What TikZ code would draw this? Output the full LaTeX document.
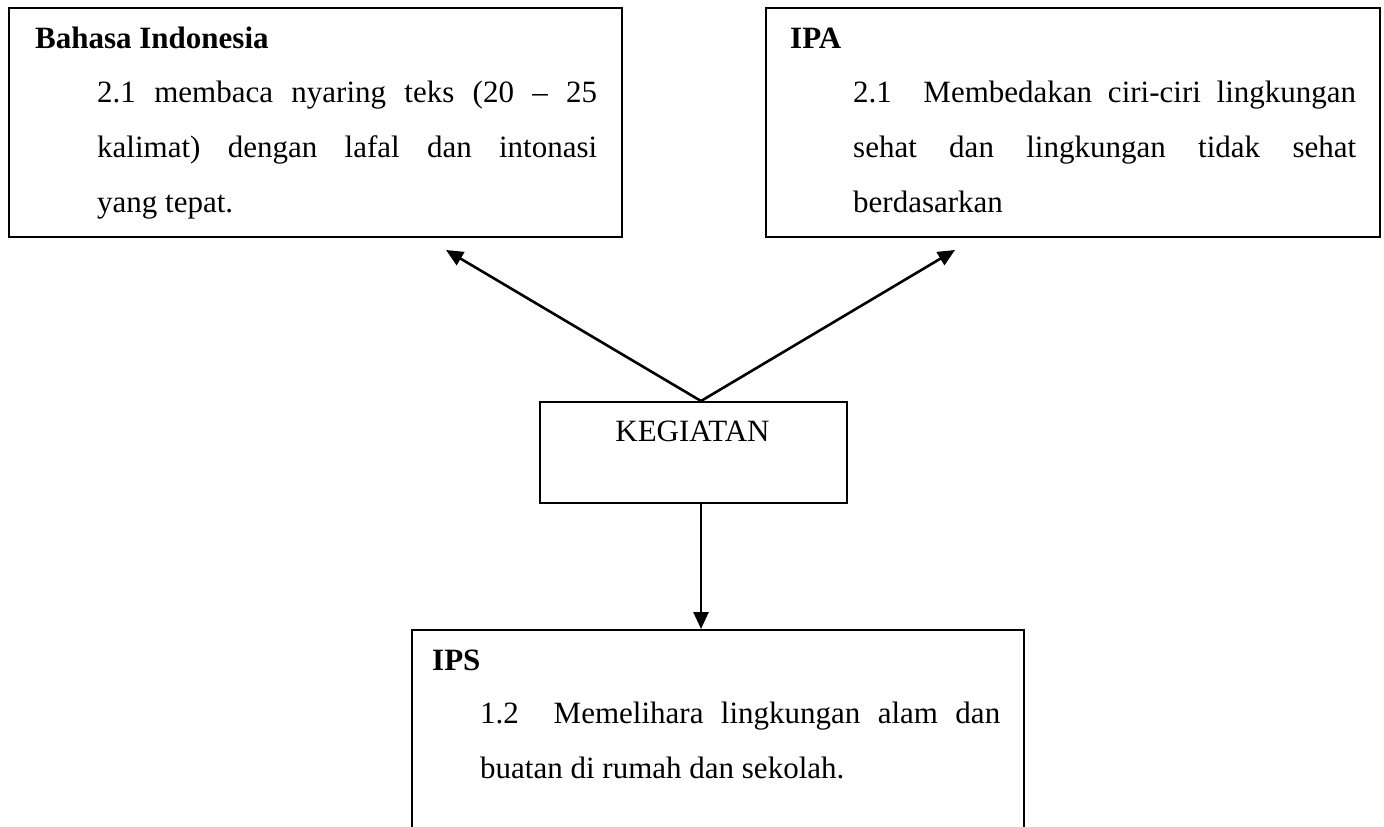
\documentclass[tikz,border=0pt]{standalone}
\usepackage{fontspec}
\setmainfont{Liberation Serif}
\usetikzlibrary{arrows.meta,positioning}
\tikzset{
  boxnode/.style={draw=black, line width=2pt, inner sep=0pt, anchor=north west},
  titletext/.style={anchor=base west, inner sep=0pt, font=\fontsize{31}{55}\selectfont\bfseries},
  bodytext/.style={anchor=north west, inner sep=0pt, align=justify, font=\fontsize{31}{55}\selectfont},
  conn/.style={line width=2.6pt, -{Triangle[length=17pt,width=15pt]}}
}
\newcommand{\firstline}{\rule{0pt}{25pt}}
\begin{document}
\begin{tikzpicture}[x=1pt,y=-1pt]
\useasboundingbox (0,0) rectangle (1384,827);
% boxes
\node[boxnode, minimum width=613pt, minimum height=229pt] (bi) at (8,7) {};
\node[boxnode, minimum width=614pt, minimum height=229pt] (ipa) at (765,7) {};
\node[boxnode, minimum width=307pt, minimum height=101pt] (keg) at (539,401) {};
\node[boxnode, minimum width=612pt, minimum height=230pt] (ips) at (411,629) {};
% texts
\node[titletext] (bit) at (35,48) {Bahasa Indonesia};
\node[bodytext, text width=500pt] (bib) at (97,77) {\firstline 2.1 membaca nyaring teks (20 -- 25\linebreak kalimat) dengan lafal dan intonasi\linebreak yang tepat.};
\node[titletext] (ipat) at (790,48) {IPA};
\node[bodytext, text width=503pt] (ipab) at (853,77) {\firstline 2.1~ Membedakan ciri-ciri lingkungan\linebreak sehat dan lingkungan tidak sehat\linebreak berdasarkan};
\node[anchor=base, inner sep=0pt, font=\fontsize{31}{55}\selectfont] (kegt) at (692.5,441) {KEGIATAN};
\node[titletext] (ipst) at (432,670) {IPS};
\node[bodytext, text width=520pt] (ipsb) at (480,698) {\firstline 1.2~ Memelihara lingkungan alam dan\linebreak buatan di rumah dan sekolah.};
% connectors
\coordinate (apex) at (701,401);
\coordinate (tipL) at (446,250);
\coordinate (tipR) at (955,250);
\draw[conn] (apex) -- (tipL);
\draw[conn] (apex) -- (tipR);
\draw[conn] (apex |- keg.south) -- (apex |- ips.north);
\end{tikzpicture}
\end{document}
